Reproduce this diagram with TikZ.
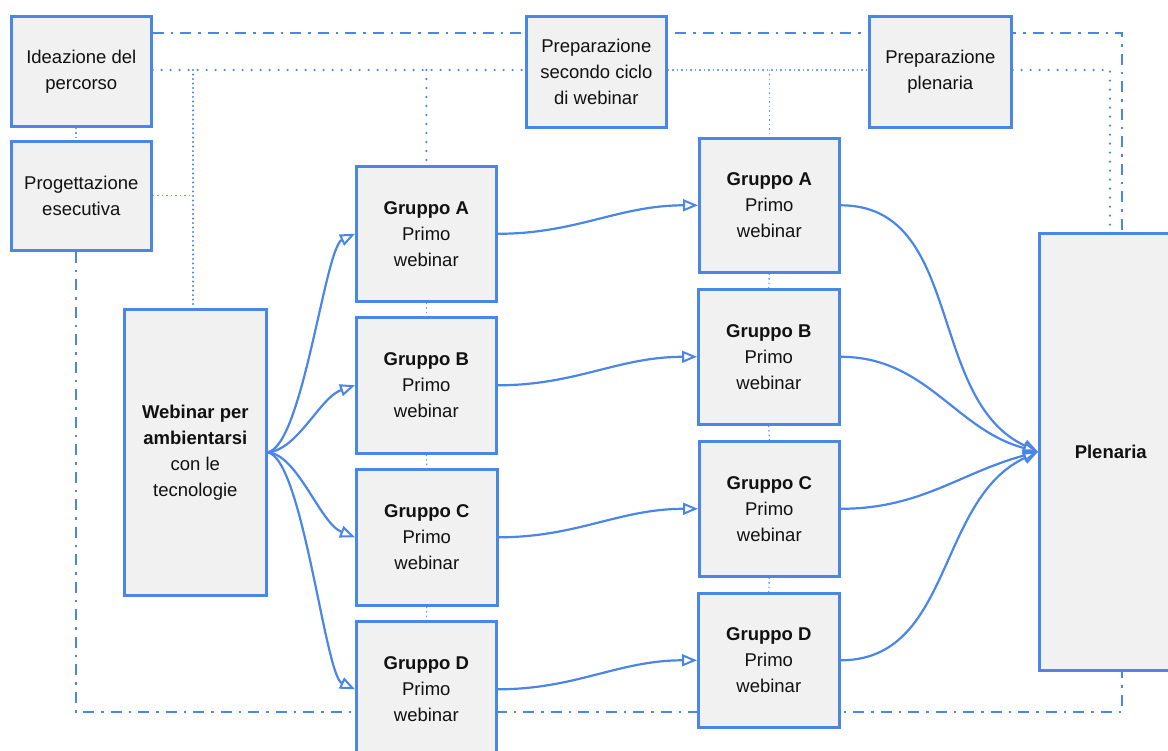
\documentclass[tikz,border=0pt]{standalone}
\usepackage{fontspec}
\setmainfont{Liberation Sans}
\usetikzlibrary{arrows.meta}
\definecolor{bl}{HTML}{4A86E8}
\definecolor{fillg}{HTML}{F1F1F1}
\definecolor{txt}{HTML}{111111}
\pgfdeclarelayer{bg}
\pgfsetlayers{bg,main}
\begin{document}
\begin{tikzpicture}[x=1pt,y=-1pt,
  box/.style={draw=bl, fill=fillg, line width=2.6pt, align=center, inner sep=0pt,
    anchor=north west, text=txt, font=\fontsize{18.5}{26}\selectfont},
  dd/.style={draw=bl, line width=2.2pt, dash pattern=on 11pt off 7pt on 2.5pt off 7pt},
  dt/.style={draw=bl, line width=2.4pt, line cap=round, dash pattern=on 0pt off 9pt},
  dtd/.style={draw=bl, line width=2.2pt, line cap=round, dash pattern=on 0pt off 4.5pt},
  dtl/.style={draw=bl!80, line width=1.3pt, dash pattern=on 1.5pt off 3pt},
  arr/.style={draw=bl, line width=2.2pt, -{Triangle[open,length=15pt,width=12pt,line width=2pt]}},
  ln/.style={draw=bl, line width=2.2pt}]
\useasboundingbox (0,0) rectangle (1168,751);
\clip (0,0) rectangle (1168,751);
% boxes
\node[box, minimum width=140pt, minimum height=110pt] (idea) at (10,15) {Ideazione del\\percorso};
\node[box, minimum width=140pt, minimum height=109pt] (prog) at (10,140) {Progettazione\\esecutiva};
\node[box, minimum width=140pt, minimum height=111pt] (sec) at (525,15) {Preparazione\\secondo ciclo\\di webinar};
\node[box, minimum width=142pt, minimum height=111pt] (pp) at (868,15) {Preparazione\\plenaria};
\node[box, minimum width=142pt, minimum height=286pt] (web) at (123,308) {\textbf{Webinar per}\\\textbf{ambientarsi}\\con le\\tecnologie};
\node[box, minimum width=140pt, minimum height=135pt] (g1a) at (355,165) {\textbf{Gruppo A}\\Primo\\webinar};
\node[box, minimum width=140pt, minimum height=136pt] (g1b) at (355,316) {\textbf{Gruppo B}\\Primo\\webinar};
\node[box, minimum width=141pt, minimum height=136pt] (g1c) at (355,468) {\textbf{Gruppo C}\\Primo\\webinar};
\node[box, minimum width=140pt, minimum height=136pt] (g1d) at (355,620) {\textbf{Gruppo D}\\Primo\\webinar};
\node[box, minimum width=140pt, minimum height=134pt] (g2a) at (698,137) {\textbf{Gruppo A}\\Primo\\webinar};
\node[box, minimum width=141pt, minimum height=135pt] (g2b) at (697,288) {\textbf{Gruppo B}\\Primo\\webinar};
\node[box, minimum width=140pt, minimum height=135pt] (g2c) at (698,440) {\textbf{Gruppo C}\\Primo\\webinar};
\node[box, minimum width=141pt, minimum height=134pt] (g2d) at (697,592) {\textbf{Gruppo D}\\Primo\\webinar};
\node[box, minimum width=143pt, minimum height=437pt] (plen) at (1038,232) {\textbf{Plenaria}};
% helper coordinates
\coordinate (c1) at (1122,33);
\coordinate (c2) at (76,712);
\coordinate (d1) at (1110,70);
\coordinate (v1) at (193,70);
\begin{pgfonlayer}{bg}
\draw[dd] (c1 -| idea.east) -- (c1) -- (c1 |- plen.north);
\draw[dd] (prog.south -| c2) -- (c2) -- (c2 -| c1) -- (plen.south -| c1);
\draw[dt] (idea.east |- d1) -- (sec.west |- d1);
\draw[dtl] (sec.east |- d1) -- (pp.west |- d1);
\draw[dt] (pp.east |- d1) -- (d1) -- (d1 |- plen.north);
\draw[dtd] (v1) -- (v1 |- web.north);
\draw[dtl] (prog.east) -- (prog.east -| v1);
\draw[dt] (g1a.north |- d1) -- (g1a.north);
\draw[dtl] (g2a.north |- d1) -- (g2a.north);
\draw[dtl] (idea.south -| c2) -- (prog.north -| c2);
\draw[dtl] (g1a.south) -- (g1b.north);
\draw[dtl] (g1b.south) -- (g1c.north);
\draw[dtl] (g1c.south) -- (g1d.north);
\draw[dtl] (g2a.south) -- (g2b.north);
\draw[dtl] (g2b.south) -- (g2c.north);
\draw[dtl] (g2c.south) -- (g2d.north);
\end{pgfonlayer}
% arrows from webinar
\draw[arr] (web.east) .. controls +(35,-6) and +(-30,14) .. (g1a.west);
\draw[arr] (web.east) .. controls +(30,-2) and +(-35,12) .. (g1b.west);
\draw[arr] (web.east) .. controls +(30,2) and +(-35,-14) .. (g1c.west);
\draw[arr] (web.east) .. controls +(35,6) and +(-30,-14) .. (g1d.west);
% col1 -> col2
\draw[arr] (g1a.east) to[out=0,in=180] (g2a.west);
\draw[arr] (g1b.east) to[out=0,in=180] (g2b.west);
\draw[arr] (g1c.east) to[out=0,in=180] (g2c.west);
\draw[arr] (g1d.east) to[out=0,in=180] (g2d.west);
% col2 -> plenaria
\draw[arr] (g2a.east) to[out=0,in=155] (plen.west);
\draw[arr] (g2b.east) to[out=0,in=165] (plen.west);
\draw[arr] (g2c.east) to[out=0,in=195] (plen.west);
\draw[arr] (g2d.east) to[out=0,in=205] (plen.west);
\end{tikzpicture}
\end{document}
